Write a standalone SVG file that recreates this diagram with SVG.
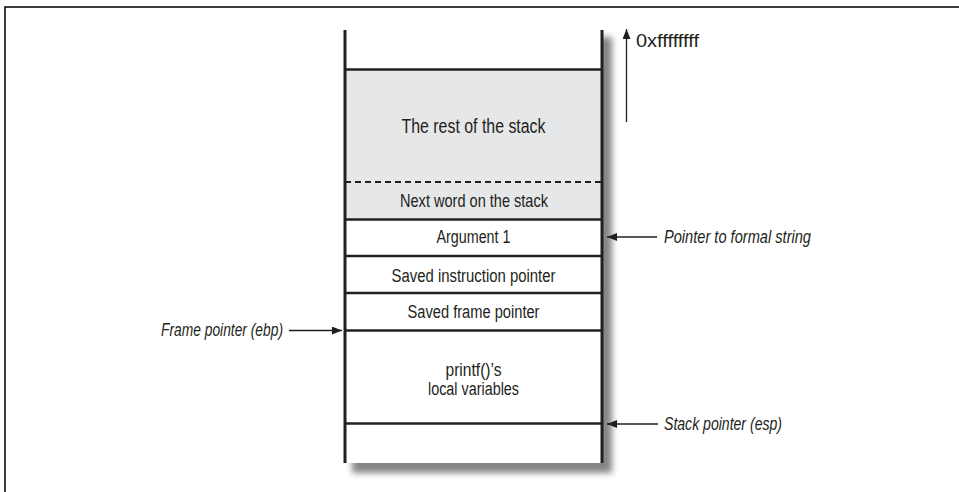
<svg xmlns="http://www.w3.org/2000/svg" width="959" height="492" viewBox="0 0 959 492">
<defs>
<marker id="ah" viewBox="0 0 10 8" refX="10" refY="4" markerWidth="10" markerHeight="8" markerUnits="userSpaceOnUse" orient="auto">
<path d="M0,0 L10,4 L0,8 Z" fill="#231f20"/>
</marker>
<filter id="blur" x="-10%" y="-10%" width="120%" height="120%">
<feGaussianBlur stdDeviation="3"/>
</filter>
</defs>
<style>
.t{font-family:"Liberation Sans",Arial,sans-serif;fill:#231f20;text-anchor:middle}
.l{font-family:"Liberation Sans",Arial,sans-serif;fill:#231f20;font-style:italic}
.wall{stroke:#231f20;stroke-width:3;fill:none}
.row{stroke:#231f20;stroke-width:2.5;fill:none}
.conn{stroke:#231f20;stroke-width:1.3;fill:none;marker-end:url(#ah)}
</style>
<rect width="959" height="492" fill="#ffffff"/>
<path d="M5,492 V7 H959" stroke="#000" stroke-width="1.5" fill="none"/>
<g id="stack">
<rect x="352" y="37" width="260" height="436" fill="#858585" filter="url(#blur)"/>
<rect x="345" y="30" width="257" height="433" fill="#ffffff"/>
<rect x="345" y="69.5" width="257" height="150" fill="#e6e7e8"/>
<line class="wall" x1="345" y1="30" x2="345" y2="463"/>
<line class="wall" x1="602" y1="30" x2="602" y2="463"/>
</g>
<g id="node-rest">
<line class="row" x1="345" y1="69.5" x2="602" y2="69.5"/>
<text class="t" x="473.5" y="133" font-size="20" textLength="144" lengthAdjust="spacingAndGlyphs">The rest of the stack</text>
</g>
<g id="node-next">
<line x1="345" y1="182" x2="602" y2="182" stroke="#231f20" stroke-width="2" stroke-dasharray="6,4"/>
<text class="t" x="474" y="206.5" font-size="18.5" textLength="148" lengthAdjust="spacingAndGlyphs">Next word on the stack</text>
</g>
<g id="node-arg">
<line class="row" x1="345" y1="219.5" x2="602" y2="219.5"/>
<text class="t" x="473.5" y="243" font-size="18" textLength="74" lengthAdjust="spacingAndGlyphs">Argument 1</text>
</g>
<g id="node-sip">
<line class="row" x1="345" y1="256" x2="602" y2="256"/>
<text class="t" x="473.5" y="281.5" font-size="18" textLength="164" lengthAdjust="spacingAndGlyphs">Saved instruction pointer</text>
</g>
<g id="node-sfp">
<line class="row" x1="345" y1="293" x2="602" y2="293"/>
<text class="t" x="473.5" y="318" font-size="18" textLength="132" lengthAdjust="spacingAndGlyphs">Saved frame pointer</text>
</g>
<g id="node-locals">
<line class="row" x1="345" y1="330.5" x2="602" y2="330.5"/>
<text class="t" x="473.5" y="375.5" font-size="18" textLength="56" lengthAdjust="spacingAndGlyphs">printf()’s</text>
<text class="t" x="473.5" y="395" font-size="18" textLength="91" lengthAdjust="spacingAndGlyphs">local variables</text>
</g>
<g id="node-below">
<line class="row" x1="345" y1="423.5" x2="602" y2="423.5"/>
</g>
<g id="labels">
<text x="636" y="46.5" font-family="Liberation Sans, Arial, sans-serif" fill="#231f20" font-size="18" textLength="63" lengthAdjust="spacingAndGlyphs">0xffffffff</text>
<text class="l" x="664" y="243" font-size="19" textLength="147" lengthAdjust="spacingAndGlyphs">Pointer to formal string</text>
<text class="l" x="161" y="336" font-size="19" textLength="122" lengthAdjust="spacingAndGlyphs">Frame pointer (ebp)</text>
<text class="l" x="664" y="430" font-size="19" textLength="118" lengthAdjust="spacingAndGlyphs">Stack pointer (esp)</text>
</g>
<g id="connectors">
<line class="conn" x1="626.5" y1="122" x2="626.5" y2="29"/>
<line class="conn" x1="657" y1="237" x2="607" y2="237"/>
<line class="conn" x1="289" y1="330.5" x2="342" y2="330.5"/>
<line class="conn" x1="658" y1="424" x2="607" y2="424"/>
</g>
</svg>
